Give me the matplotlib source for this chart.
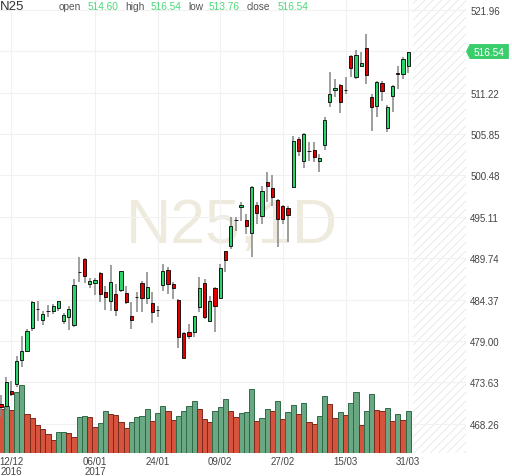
import numpy as np
import matplotlib.pyplot as plt
from matplotlib.patches import Polygon
import matplotlib.transforms as mtransforms

plt.rcParams['font.family'] = ['Liberation Sans', 'DejaVu Sans']
plt.rcParams['hatch.linewidth'] = 0.6

# daily candles, 08/12/2016 .. 31/03/2017
opens = [470.82, 470.60, 472.55, 473.42, 476.57, 477.66, 480.68, 483.10, 481.76, 482.84,
         482.92, 483.27, 481.55, 482.07, 481.07, 487.98, 489.63, 486.38, 486.48, 487.77,
         485.30, 484.22, 485.09, 485.61, 485.22, 482.28, 484.66, 486.51, 484.53, 483.92,
         482.97, 486.29, 488.24, 486.38, 484.35, 479.99, 480.20, 480.20, 483.36, 486.51,
         481.63, 485.83, 484.53, 490.63, 491.27, 494.69, 496.41, 494.73, 493.00, 496.63,
         495.17, 499.58, 498.80, 497.28, 496.46, 496.20, 499.01, 505.19, 502.30, 503.65,
         503.80, 502.30, 504.41, 510.03, 511.55, 512.20, 511.55, 516.00, 513.19, 514.70,
         516.99, 510.68, 509.43, 512.46, 506.58, 510.81, 513.79, 513.62, 514.60]
highs = [471.99, 474.36, 473.84, 477.09, 479.60, 480.55, 484.14, 484.18, 482.92, 483.66,
         483.79, 484.22, 482.63, 483.57, 487.03, 489.85, 489.72, 487.12, 487.12, 487.90,
         486.17, 488.85, 486.38, 488.11, 486.09, 484.01, 485.39, 486.74, 487.90, 485.39,
         483.57, 488.98, 488.55, 486.61, 484.44, 480.12, 481.20, 482.27, 487.25, 487.03,
         484.87, 485.96, 488.98, 490.71, 495.04, 495.04, 496.98, 495.46, 499.14, 496.98,
         499.14, 500.87, 500.52, 497.41, 496.63, 496.54, 505.54, 505.41, 505.97, 504.76,
         504.84, 503.25, 508.01, 513.92, 512.97, 512.33, 513.19, 516.09, 516.77, 516.44,
         518.81, 511.03, 512.75, 512.75, 509.60, 512.20, 514.70, 515.79, 516.54]
lows = [469.14, 469.95, 471.90, 472.99, 475.58, 477.53, 480.33, 481.63, 481.07, 482.15,
        482.50, 482.92, 481.20, 480.46, 480.77, 486.61, 486.48, 485.83, 484.99, 484.01,
        483.05, 482.92, 482.28, 485.30, 483.79, 480.55, 482.72, 482.72, 483.79, 481.33,
        482.07, 485.52, 485.09, 484.44, 478.08, 476.75, 479.25, 479.47, 482.72, 481.85,
        481.42, 480.12, 484.44, 487.90, 490.92, 493.30, 494.60, 492.87, 489.85, 494.17,
        494.17, 496.98, 496.54, 491.15, 494.17, 491.79, 498.90, 503.03, 501.39, 502.38,
        502.25, 500.87, 503.80, 509.30, 510.60, 508.56, 511.03, 513.19, 512.97, 514.50,
        512.33, 506.27, 508.01, 510.16, 506.06, 508.66, 511.68, 512.97, 513.76]
closes = [470.43, 473.64, 472.12, 476.44, 477.66, 480.33, 484.01, 483.18, 482.50, 482.86,
          483.49, 484.14, 482.37, 483.14, 486.29, 488.00, 487.46, 486.81, 486.94, 485.09,
          484.66, 486.61, 483.01, 488.03, 484.09, 481.72, 484.68, 484.53, 485.96, 482.72,
          482.99, 488.03, 486.38, 485.83, 479.47, 476.80, 479.60, 482.20, 485.83, 482.07,
          484.22, 483.49, 488.42, 489.54, 493.95, 494.71, 496.63, 493.95, 499.01, 495.59,
          498.49, 499.06, 497.63, 494.82, 494.82, 495.33, 504.97, 503.67, 505.84, 503.67,
          502.82, 502.69, 507.66, 511.03, 511.77, 509.95, 511.57, 514.36, 516.13, 515.05,
          513.49, 509.38, 512.55, 511.46, 509.30, 512.11, 513.58, 515.57, 516.54]
volumes = [44.0, 47.3, 43.3, 60.7, 68.3, 39.0, 34.7, 28.0, 24.0, 19.0,
           13.0, 20.7, 21.0, 19.7, 16.3, 35.7, 36.7, 36.3, 25.7, 29.7,
           41.7, 39.0, 38.0, 30.7, 24.7, 30.7, 35.7, 36.7, 44.0, 32.3,
           40.0, 46.7, 42.3, 33.3, 36.7, 41.7, 46.7, 52.3, 44.0, 34.0,
           31.3, 42.3, 45.7, 54.0, 41.7, 35.7, 40.0, 40.7, 64.0, 32.3,
           34.7, 44.0, 42.3, 52.3, 34.0, 40.7, 48.0, 39.0, 50.0, 30.7,
           29.0, 37.3, 56.7, 49.0, 34.7, 40.7, 38.0, 50.0, 60.7, 28.0,
           42.3, 59.0, 43.3, 41.7, 44.7, 32.3, 39.0, 33.3, 42.3]

date_pos = [2, 18, 30, 42, 54, 66, 78]
date_labels = ['12/12\n2016', '06/01\n2017', '24/01', '09/02', '27/02', '15/03', '31/03']
price_ticks = [468.26, 473.63, 479.00, 484.37, 489.74, 495.11, 500.48, 505.85, 511.22, 516.59, 521.96]

o, h, l, c = map(np.array, (opens, highs, lows, closes))
x = np.arange(len(o))
vol = np.array(volumes)

fig = plt.figure(figsize=(5.12, 4.77), dpi=100)
rect = [0, 23 / 477, 466 / 512, 454 / 477]
ax = fig.add_axes(rect)                      # grid, ticks, background
vax = fig.add_axes(rect, sharex=ax)          # volume
cax = fig.add_axes(rect, sharex=ax, sharey=ax)  # candles on top
ax.set_zorder(0)
vax.set_zorder(1)
cax.set_zorder(2)
vax.axis('off')
cax.axis('off')

ax.set_xlim(-0.19, 89.08)
ax.set_ylim(464.47, 523.35)
for s in ax.spines.values():
    s.set_visible(False)
ax.grid(True, color='#f1f1f1', lw=0.8)
ax.yaxis.tick_right()
ax.set_yticks(price_ticks, ['%.2f' % p if p != 516.59 else '' for p in price_ticks])
ax.set_xticks(date_pos, date_labels)
ax.tick_params(axis='both', length=0, labelsize=7, colors='#444444')
ax.tick_params(axis='y', pad=3)
ax.tick_params(axis='x', pad=2.5)
for t in ax.get_xticklabels():
    t.set_linespacing(0.95)

# future area
ax.axvspan(78.9, 89.08, facecolor='none', edgecolor='#e6e6e6', hatch='////', lw=0)

# watermark
ax.text(0.498, 0.4648, 'N25,1D', transform=ax.transAxes, ha='center', va='baseline',
        fontsize=45, color='#eeeade', zorder=0.5)

# volume bars, coloured by change against previous bar
vup = np.concatenate([[False], vol[1:] >= vol[:-1]])
vax.bar(x, vol, width=1.0, color=np.where(vup, '#6aa883', '#d6543e'),
        edgecolor=np.where(vup, '#2f6a49', '#7c2a1c'), lw=0.7)
vax.set_ylim(0, 454)

# candles
cax.vlines(x, l, h, color='#858585', lw=1.1, zorder=1)
cax.bar(x, np.abs(c - o), bottom=np.minimum(o, c), width=0.62,
        color=np.where(c >= o, '#2bd46a', '#e00000'), edgecolor='black', lw=0.6, zorder=2)

# last price tag
last = closes[-1]
tr = mtransforms.blended_transform_factory(ax.transAxes, ax.transData)
tag = Polygon([(1.0, last), (1.008, last + 0.97), (1.092, last + 0.97),
               (1.092, last - 0.97), (1.008, last - 0.97)], closed=True,
              transform=tr, clip_on=False, fc='#3acd6c', ec='none', zorder=5)
ax.add_patch(tag)
ax.text(1.05, last, '%.2f' % last, transform=tr, ha='center', va='center',
        fontsize=7.3, color='white', zorder=6, clip_on=False)

# header
yh = 1 - 6.5 / 477
fig.text(0, yh, 'N25', fontsize=9.5, color='#333333', va='center')
header = [('open', opens[-1], 59, 88), ('high', highs[-1], 125, 151),
          ('low', lows[-1], 188, 209), ('close', closes[-1], 247, 278)]
for name, val, xl, xv in header:
    fig.text(xl / 512, yh, name, fontsize=7.3, color='#555555', va='center')
    fig.text(xv / 512, yh, '%.2f' % val, fontsize=7.3, color='#4cd97a', va='center')

fig.savefig('out.png', dpi=100)
